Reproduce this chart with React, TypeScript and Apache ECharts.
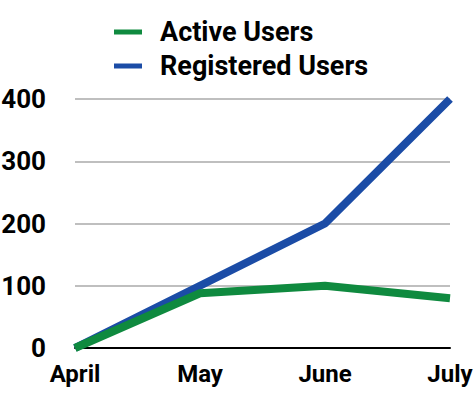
import React, { useEffect, useRef } from "react";
import * as echarts from "echarts";

const months = ["April", "May", "June", "July"];
const activeUsers = [0, 88, 100, 80];
const registeredUsers = [0, 100, 200, 400];
const yTicks = [0, 100, 200, 300, 400];

const FONT = "Roboto, 'DejaVu Sans', sans-serif";

export default function App() {
  const ref = useRef<HTMLDivElement>(null);
  useEffect(() => {
    document.body.style.margin = "0";
    const chart = echarts.init(ref.current!, undefined, { renderer: "svg" });
    chart.setOption({
      animation: false,
      backgroundColor: "#ffffff",
      legend: {
        orient: "vertical",
        left: 109,
        top: 12,
        icon: "rect",
        itemWidth: 28,
        itemHeight: 5,
        itemGap: 4,
        data: ["Active Users", "Registered Users"],
        textStyle: {
          fontFamily: FONT,
          fontWeight: "bold",
          fontSize: 27,
          color: "#000",
          padding: [0, 0, 0, 13],
          lineHeight: 30,
        },
      },
      grid: {
        left: 75,
        right: 24,
        top: 99,
        bottom: 45,
        containLabel: false,
        outerBoundsMode: "none",
      },
      xAxis: {
        type: "category",
        data: months,
        boundaryGap: false,
        axisLine: { lineStyle: { color: "#000", width: 2 } },
        axisTick: { show: false },
        axisLabel: {
          fontFamily: FONT,
          fontWeight: "bold",
          fontSize: 24,
          color: "#000",
          margin: 14,
        },
      },
      yAxis: {
        type: "value",
        min: yTicks[0],
        max: yTicks[yTicks.length - 1],
        interval: 100,
        axisLine: { show: false },
        axisTick: { show: false },
        splitLine: { lineStyle: { color: "#aaaaaa", width: 1.5 } },
        axisLabel: {
          fontFamily: FONT,
          fontWeight: "bold",
          fontSize: 26,
          color: "#000",
          margin: 29,
        },
      },
      series: [
        {
          name: "Registered Users",
          type: "line",
          data: registeredUsers,
          showSymbol: false,
          symbol: "none",
          lineStyle: { width: 8, color: "#1b4ca6" },
          itemStyle: { color: "#1b4ca6" },
        },
        {
          name: "Active Users",
          type: "line",
          data: activeUsers,
          showSymbol: false,
          symbol: "none",
          lineStyle: { width: 8, color: "#0f8a3f" },
          itemStyle: { color: "#0f8a3f" },
        },
      ],
    });
    return () => chart.dispose();
  }, []);
  return <div ref={ref} style={{ width: 474, height: 393 }} />;
}
